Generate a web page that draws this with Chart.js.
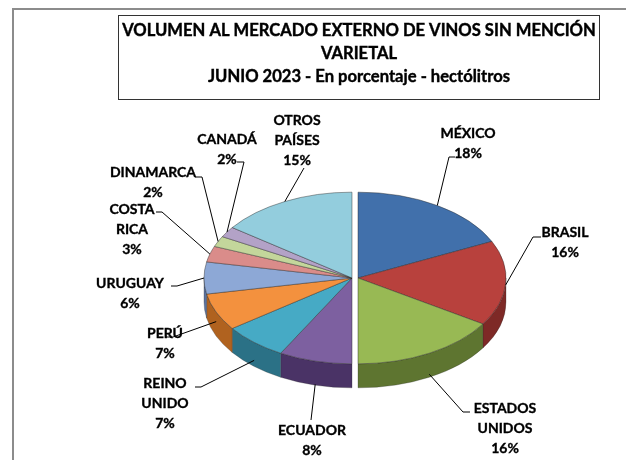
<!DOCTYPE html>
<html>
<head>
<meta charset="utf-8">
<script src="https://cdn.jsdelivr.net/npm/chart.js@4.4.0/dist/chart.umd.min.js"></script>
<style>
  html, body { margin: 0; padding: 0; background: #fff; }
</style>
</head>
<body>
<canvas id="pie" width="626" height="460"></canvas>
<script>
// data (percent of hectolitres, June 2023)
const countries = ["MÉXICO", "BRASIL", "ESTADOS UNIDOS", "ECUADOR", "REINO UNIDO", "PERÚ",
  "URUGUAY", "COSTA RICA", "DINAMARCA", "CANADÁ", "OTROS PAÍSES"];
const shares = [18, 16, 16, 8, 7, 7, 6, 3, 2, 2, 15];
const titleLines = [
  "VOLUMEN AL MERCADO EXTERNO DE VINOS SIN MENCIÓN",
  "VARIETAL",
  "JUNIO 2023 - En porcentaje - hectólitros",
];

// styles
const topColors = ["#4170AB", "#B8413D", "#98B954", "#7D60A0", "#46AAC5", "#F3913E",
  "#8DA8D6", "#DA8C8A", "#C3D69B", "#B3A2C7", "#93CDDD"];
const sideColors = ["#2B4C78", "#7E2926", "#5E7530", "#4A3366", "#2B7186", "#B0621F",
  "#5B73A0", "#A05A58", "#8A9E62", "#7B6B90", "#5D96A6"];
// label anchor (centre of first text line) and the elbow of each leader line
const labelPos = [[468, 133], [565, 232], [505, 408], [312, 430], [165, 383], [165, 333],
  [130, 283], [132, 209], [153, 172], [227, 139], [297, 120]];
const elbows = [[455, 449, 157], [541, 533, 237], [470, 463, 412], [311, 311, 420],
  [195, 201, 387], [166, 173, 337], [171, 177, 286], [156, 162, 212], [195, 202, 177],
  [237, 244, 162], [304, 304, 168]];

const squash = 0.58; // vertical squeeze of the pie top
const depth = 24;    // thickness of the pie
const gap = 3;       // halves pulled apart

const halfShift = (arc) => {
  const mid = (arc.startAngle + arc.endAngle) / 2;
  return Math.cos(mid) >= 0 ? gap : -gap;
};

// bold text with a touch of extra weight
const heavyText = (ctx, t, x, y) => {
  ctx.strokeText(t, x, y);
  ctx.fillText(t, x, y);
};

const pie3d = {
  id: "pie3d",
  beforeDatasetsDraw(chart) {
    const ctx = chart.ctx;
    const meta = chart.getDatasetMeta(0);
    // side walls of the front half
    meta.data.forEach((arc, i) => {
      const s = Math.max(arc.startAngle, 0);
      const e = Math.min(arc.endAngle, Math.PI);
      if (s >= e) return;
      const dx = halfShift(arc);
      const r = arc.outerRadius;
      const ry = r * squash;
      ctx.save();
      ctx.beginPath();
      ctx.ellipse(arc.x + dx, arc.y, r, ry, 0, s, e);
      ctx.ellipse(arc.x + dx, arc.y + depth, r, ry, 0, e, s, true);
      ctx.closePath();
      ctx.fillStyle = sideColors[i];
      ctx.fill();
      ctx.strokeStyle = "rgba(40,40,40,0.35)";
      ctx.lineWidth = 0.8;
      ctx.stroke();
      ctx.restore();
    });
    // top faces, drawn by the arc elements themselves
    meta.data.forEach((arc) => {
      ctx.save();
      ctx.translate(halfShift(arc), arc.y);
      ctx.scale(1, squash);
      ctx.translate(0, -arc.y);
      arc.draw(ctx);
      ctx.restore();
    });
    return false;
  },
  afterDraw(chart) {
    const ctx = chart.ctx;
    const meta = chart.getDatasetMeta(0);

    // outer frame
    ctx.save();
    ctx.strokeStyle = "#8c8c8c";
    ctx.lineWidth = 2;
    ctx.beginPath();
    ctx.moveTo(13, 460);
    ctx.lineTo(13, 9);
    ctx.lineTo(626, 9);
    ctx.stroke();

    // title box
    ctx.strokeStyle = "#333";
    ctx.lineWidth = 1;
    ctx.strokeRect(118.5, 15.5, 481, 84);
    ctx.fillStyle = "#000";
    ctx.strokeStyle = "#000";
    ctx.lineWidth = 0.4;
    ctx.font = "bold 16.6px Lato";
    ctx.textAlign = "center";
    ctx.textBaseline = "middle";
    [31, 54, 77].forEach((y, k) => heavyText(ctx, titleLines[k], 359, y));

    // labels and leader lines
    ctx.font = "bold 14px Lato";
    meta.data.forEach((arc, i) => {
      const mid = (arc.startAngle + arc.endAngle) / 2;
      const r = arc.outerRadius;
      const sin = Math.sin(mid);
      const ax = arc.x + halfShift(arc) + r * Math.cos(mid);
      const ay = arc.y + r * squash * sin + (sin > 0 ? depth * sin : 0);
      const [tx, ex, ey] = elbows[i];
      ctx.lineWidth = 1;
      ctx.beginPath();
      ctx.moveTo(tx, ey);
      ctx.lineTo(ex, ey);
      ctx.lineTo(ax, ay);
      ctx.stroke();

      ctx.lineWidth = 0.35;
      const lines = countries[i].split(" ").concat([shares[i] + "%"]);
      const [lx, ly] = labelPos[i];
      lines.forEach((t, k) => heavyText(ctx, t, lx, ly + k * 20));
    });
    ctx.restore();
  },
};

new Chart(document.getElementById("pie"), {
  type: "pie",
  data: {
    labels: countries,
    datasets: [
      {
        data: shares,
        backgroundColor: topColors,
        borderColor: "rgba(40,40,40,0.55)",
        borderWidth: 1,
      },
    ],
  },
  options: {
    responsive: false,
    animation: false,
    events: [],
    radius: 148,
    layout: { padding: { left: 200, right: 116, top: 120, bottom: 24 } },
    plugins: {
      legend: { display: false },
      tooltip: { enabled: false },
    },
  },
  plugins: [pie3d],
});
</script>
</body>
</html>
